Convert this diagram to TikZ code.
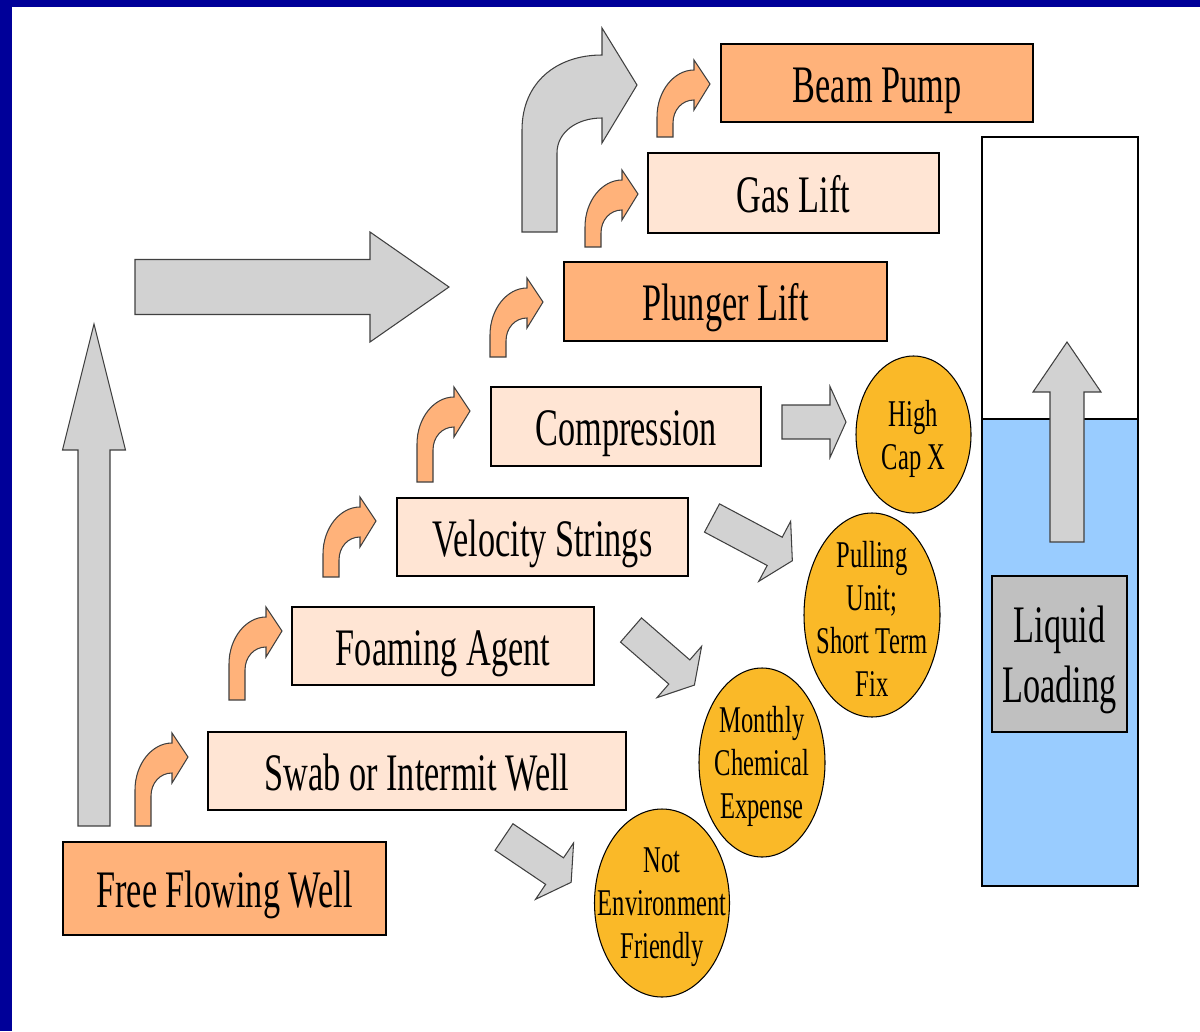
\documentclass[tikz,border=0pt]{standalone}
\usepackage{fontspec}
\setmainfont{Liberation Serif}[FakeStretch=0.65]
\usetikzlibrary{shapes.geometric}

\definecolor{slideblue}{RGB}{0,0,153}
\definecolor{darkpeach}{RGB}{255,178,122}
\definecolor{lightpeach}{RGB}{255,229,212}
\definecolor{costgold}{RGB}{250,185,40}
\definecolor{arrowgray}{RGB}{210,210,210}
\definecolor{tankgray}{RGB}{192,192,192}
\definecolor{water}{RGB}{153,204,255}

\tikzset{
  stagebox/.style={draw=black, line width=1.1pt, inner sep=0pt, font=\fontsize{30}{34}\selectfont, text height=23pt, text depth=1pt},
  darkbox/.style={stagebox, fill=darkpeach},
  lightbox/.style={stagebox, fill=lightpeach},
  bubble/.style={ellipse, draw=black, line width=0.6pt, fill=costgold, inner sep=0pt},
  bubbletext/.style={align=center, inner sep=0pt, yshift=-0.08cm, font=\fontsize{21.5}{24.5}\selectfont},
  grayarrow/.style={draw=black!75, line width=0.6pt, fill=arrowgray},
  orangearrow/.style={draw=black!75, line width=0.6pt, fill=darkpeach},
}

% block arrow: tail centre x, y, angle, length, head length, shaft half width, head half width
\newcommand{\blockarrow}[7]{%
  \draw[grayarrow, shift={(#1,#2)}, rotate=#3]
    (0,-#6) -- ({#4-#5},-#6) -- ({#4-#5},-#7) -- (#4,0)
    -- ({#4-#5},#7) -- ({#4-#5},#6) -- (0,#6) -- cycle;}

% bent arrow: shaft bottom left x, y, total height
\newcommand{\bentarrow}[3]{%
  \draw[orangearrow, shift={(#1,#2)}]
    (0,0) -- (0,{-#3+57})
    .. controls (0,{-#3+31}) and (17,{-#3+10}) .. (37,{-#3+10})
    -- (37,-#3) -- (53,{-#3+24}) -- (37,{-#3+50}) -- (37,{-#3+40})
    .. controls (25,{-#3+40}) and (16,{-#3+50}) .. (16,{-#3+63})
    -- (16,0) -- cycle;}

\begin{document}
\begin{tikzpicture}[x=0.02cm, y=-0.02cm]
\useasboundingbox (0,0) rectangle (1200,1031);

% slide frame
\fill[slideblue] (0,0) rectangle (1200,7);
\fill[slideblue] (0,0) rectangle (12,1031);

% big gray arrows
\blockarrow{94}{826}{90}{502}{126}{16}{31.5}
\blockarrow{135}{287}{0}{314}{79}{27.5}{55}
\draw[grayarrow, shift={(522,232)}]
  (0,0) -- (0,-102) .. controls (0,-150) and (35,-177) .. (80,-177)
  -- (80,-204) -- (115,-147) -- (80,-89) -- (80,-114)
  .. controls (55,-114) and (35,-100) .. (35,-79) -- (35,0) -- cycle;

% small orange steps
\bentarrow{135}{826}{93}
\bentarrow{229}{700}{93}
\bentarrow{323}{577}{80}
\bentarrow{417}{482}{95}
\bentarrow{490}{357}{79}
\bentarrow{585}{247}{77}
\bentarrow{657}{137}{77}

% the stages
\node[darkbox, minimum width=323*0.02cm, minimum height=93*0.02cm] (free) at (224.5,888.5) {Free Flowing Well};
\node[lightbox, minimum width=418*0.02cm, minimum height=78*0.02cm] (swab) at (417,771) {Swab or Intermit Well};
\node[lightbox, minimum width=302*0.02cm, minimum height=78*0.02cm] (foam) at (443,646) {Foaming Agent};
\node[lightbox, minimum width=291*0.02cm, minimum height=78*0.02cm] (velo) at (542.5,537) {Velocity Strings};
\node[lightbox, minimum width=270*0.02cm, minimum height=79*0.02cm] (comp) at (626,426.5) {Compression};
\node[darkbox, minimum width=323*0.02cm, minimum height=79*0.02cm] (plunger) at (725.5,301.5) {Plunger Lift};
\node[lightbox, minimum width=291*0.02cm, minimum height=80*0.02cm] (gas) at (793.5,193) {Gas Lift};
\node[darkbox, minimum width=312*0.02cm, minimum height=78*0.02cm] (beam) at (877,83) {Beam Pump};

% drawbacks
\blockarrow{782}{422}{0}{64}{16}{17}{35.5}
\blockarrow{712}{518}{-28}{91}{20}{16}{34}
\blockarrow{631}{630}{-41}{84}{20}{16}{34}
\blockarrow{504}{837}{-34}{81}{20}{16}{34}

\node[bubble, minimum width=115*0.02cm, minimum height=157*0.02cm] (highcap) at (913.5,434.5) {};
\node[bubbletext] (highcap-t) at (highcap.center) {High\\Cap X};
\node[bubble, minimum width=136*0.02cm, minimum height=204*0.02cm] (pulling) at (872,615) {};
\node[bubbletext] (pulling-t) at (pulling.center) {Pulling\\Unit;\\Short Term\\Fix};
\node[bubble, minimum width=126*0.02cm, minimum height=189*0.02cm] (monthly) at (762,762.5) {};
\node[bubbletext] (monthly-t) at (monthly.center) {Monthly\\Chemical\\Expense};
\node[bubble, minimum width=135*0.02cm, minimum height=188*0.02cm] (notenv) at (662,903) {};
\node[bubbletext] (notenv-t) at (notenv.center) {Not\\Environment\\Friendly};

% the well
\fill[water] (982,419) rectangle (1138,886);
\draw[line width=1.1pt] (982,419) -- (1138,419);
\draw[line width=1.1pt] (982,137) rectangle (1138,886);
\blockarrow{1067}{542}{90}{200}{50}{17}{34}
\node[draw=black, line width=1.1pt, fill=tankgray, minimum width=135*0.02cm, minimum height=156*0.02cm] (liquid) at (1059.5,654) {};
\node[align=center, inner sep=0pt, yshift=-0.12cm, font=\fontsize{30}{34}\selectfont] (liquid-t) at (liquid.center) {Liquid\\Loading};
\end{tikzpicture}
\end{document}
